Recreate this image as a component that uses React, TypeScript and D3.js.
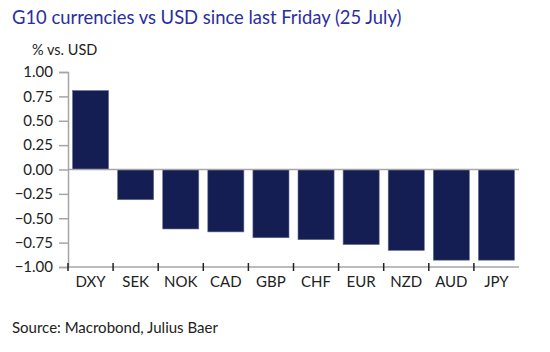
import { useEffect, useRef } from 'react';
import * as d3 from 'd3';

// Currencies vs USD, % change since 25 July
const currencies = ['DXY', 'SEK', 'NOK', 'CAD', 'GBP', 'CHF', 'EUR', 'NZD', 'AUD', 'JPY'];
const changes = [0.81, -0.31, -0.61, -0.64, -0.70, -0.72, -0.77, -0.83, -0.93, -0.93];
const yTicks = [1.0, 0.75, 0.5, 0.25, 0, -0.25, -0.5, -0.75, -1.0];

const colors = {
  bar: '#151e52',
  title: '#2a2e9e',
  text: '#222222',
  axis: '#a6a6a6',
  tick: '#222222',
};

const FONT = 'Lato, "Open Sans", sans-serif';

export default function App() {
  const ref = useRef<SVGSVGElement>(null);

  useEffect(() => {
    if (!ref.current) return;
    const svg = d3.select(ref.current);
    svg.selectAll('*').remove();

    const margin = { top: 72, left: 68, right: 31, bottom: 85 };
    const width = 550 - margin.left - margin.right;
    const height = 352 - margin.top - margin.bottom;

    // Title and subtitle
    svg.append('text')
      .attr('x', 12)
      .attr('y', 24)
      .attr('fill', colors.title)
      .attr('font-family', FONT)
      .attr('font-size', '18.4px')
      .text('G10 currencies vs USD since last Friday (25 July)');

    svg.append('text')
      .attr('x', 32)
      .attr('y', 55)
      .attr('fill', colors.text)
      .attr('font-family', FONT)
      .attr('font-size', '14.5px')
      .text('% vs. USD');

    svg.append('text')
      .attr('x', 12)
      .attr('y', 333)
      .attr('fill', colors.text)
      .attr('font-family', FONT)
      .attr('font-size', '15px')
      .text('Source: Macrobond, Julius Baer');

    const chart = svg.append('g').attr('transform', `translate(${margin.left},${margin.top})`);

    const x = d3.scaleBand().domain(currencies).range([0, width]).paddingInner(0.2).paddingOuter(0.1);
    const y = d3.scaleLinear().domain([-1, 1]).range([height, 0]);

    // Y axis
    const yAxis = chart.append('g')
      .call(d3.axisLeft(y).tickValues(yTicks).tickFormat(d => d3.format('.2f')(d as number)).tickSize(9).tickPadding(6));
    yAxis.select('.domain').attr('stroke', colors.axis).attr('stroke-width', 1.5);
    yAxis.selectAll('.tick line').attr('stroke', colors.axis).attr('stroke-width', 1.5);
    yAxis.selectAll('.tick text')
      .attr('fill', colors.text)
      .attr('font-family', FONT)
      .attr('font-size', '15px');

    // Bars
    chart.selectAll('.bar')
      .data(currencies)
      .join('rect')
      .attr('class', 'bar')
      .attr('x', d => x(d) ?? 0)
      .attr('width', x.bandwidth())
      .attr('y', (_, i) => y(Math.max(0, changes[i])))
      .attr('height', (_, i) => Math.abs(y(changes[i]) - y(0)))
      .attr('fill', colors.bar)
      .attr('stroke', '#6a6f8e')
      .attr('stroke-width', 0.6);

    // Zero line
    chart.append('line')
      .attr('x1', 0)
      .attr('x2', width)
      .attr('y1', y(0))
      .attr('y2', y(0))
      .attr('stroke', colors.axis)
      .attr('stroke-width', 1.5);

    // X axis at bottom
    const xAxis = chart.append('g').attr('transform', `translate(0,${height})`);
    xAxis.append('line')
      .attr('x1', 0)
      .attr('x2', width)
      .attr('stroke', colors.axis)
      .attr('stroke-width', 1.5);

    const step = x.step();
    const boundaries = currencies.map((c, i) => (i === 0 ? 0 : (x(c) ?? 0) - (step * x.paddingInner()) / 2));
    xAxis.selectAll('.xtick')
      .data(boundaries)
      .join('line')
      .attr('class', 'xtick')
      .attr('x1', d => d)
      .attr('x2', d => d)
      .attr('y1', -4)
      .attr('y2', 4)
      .attr('stroke', colors.tick)
      .attr('stroke-width', 1.5);

    xAxis.selectAll('.xlabel')
      .data(currencies)
      .join('text')
      .attr('class', 'xlabel')
      .attr('x', d => (x(d) ?? 0) + x.bandwidth() / 2)
      .attr('y', 20)
      .attr('text-anchor', 'middle')
      .attr('fill', colors.text)
      .attr('font-family', FONT)
      .attr('font-size', '15px')
      .text(d => d);
  }, []);

  return (
    <div style={{ margin: -8 }}>
      <svg ref={ref} width={550} height={352} style={{ display: 'block', background: '#fff' }} />
    </div>
  );
}
